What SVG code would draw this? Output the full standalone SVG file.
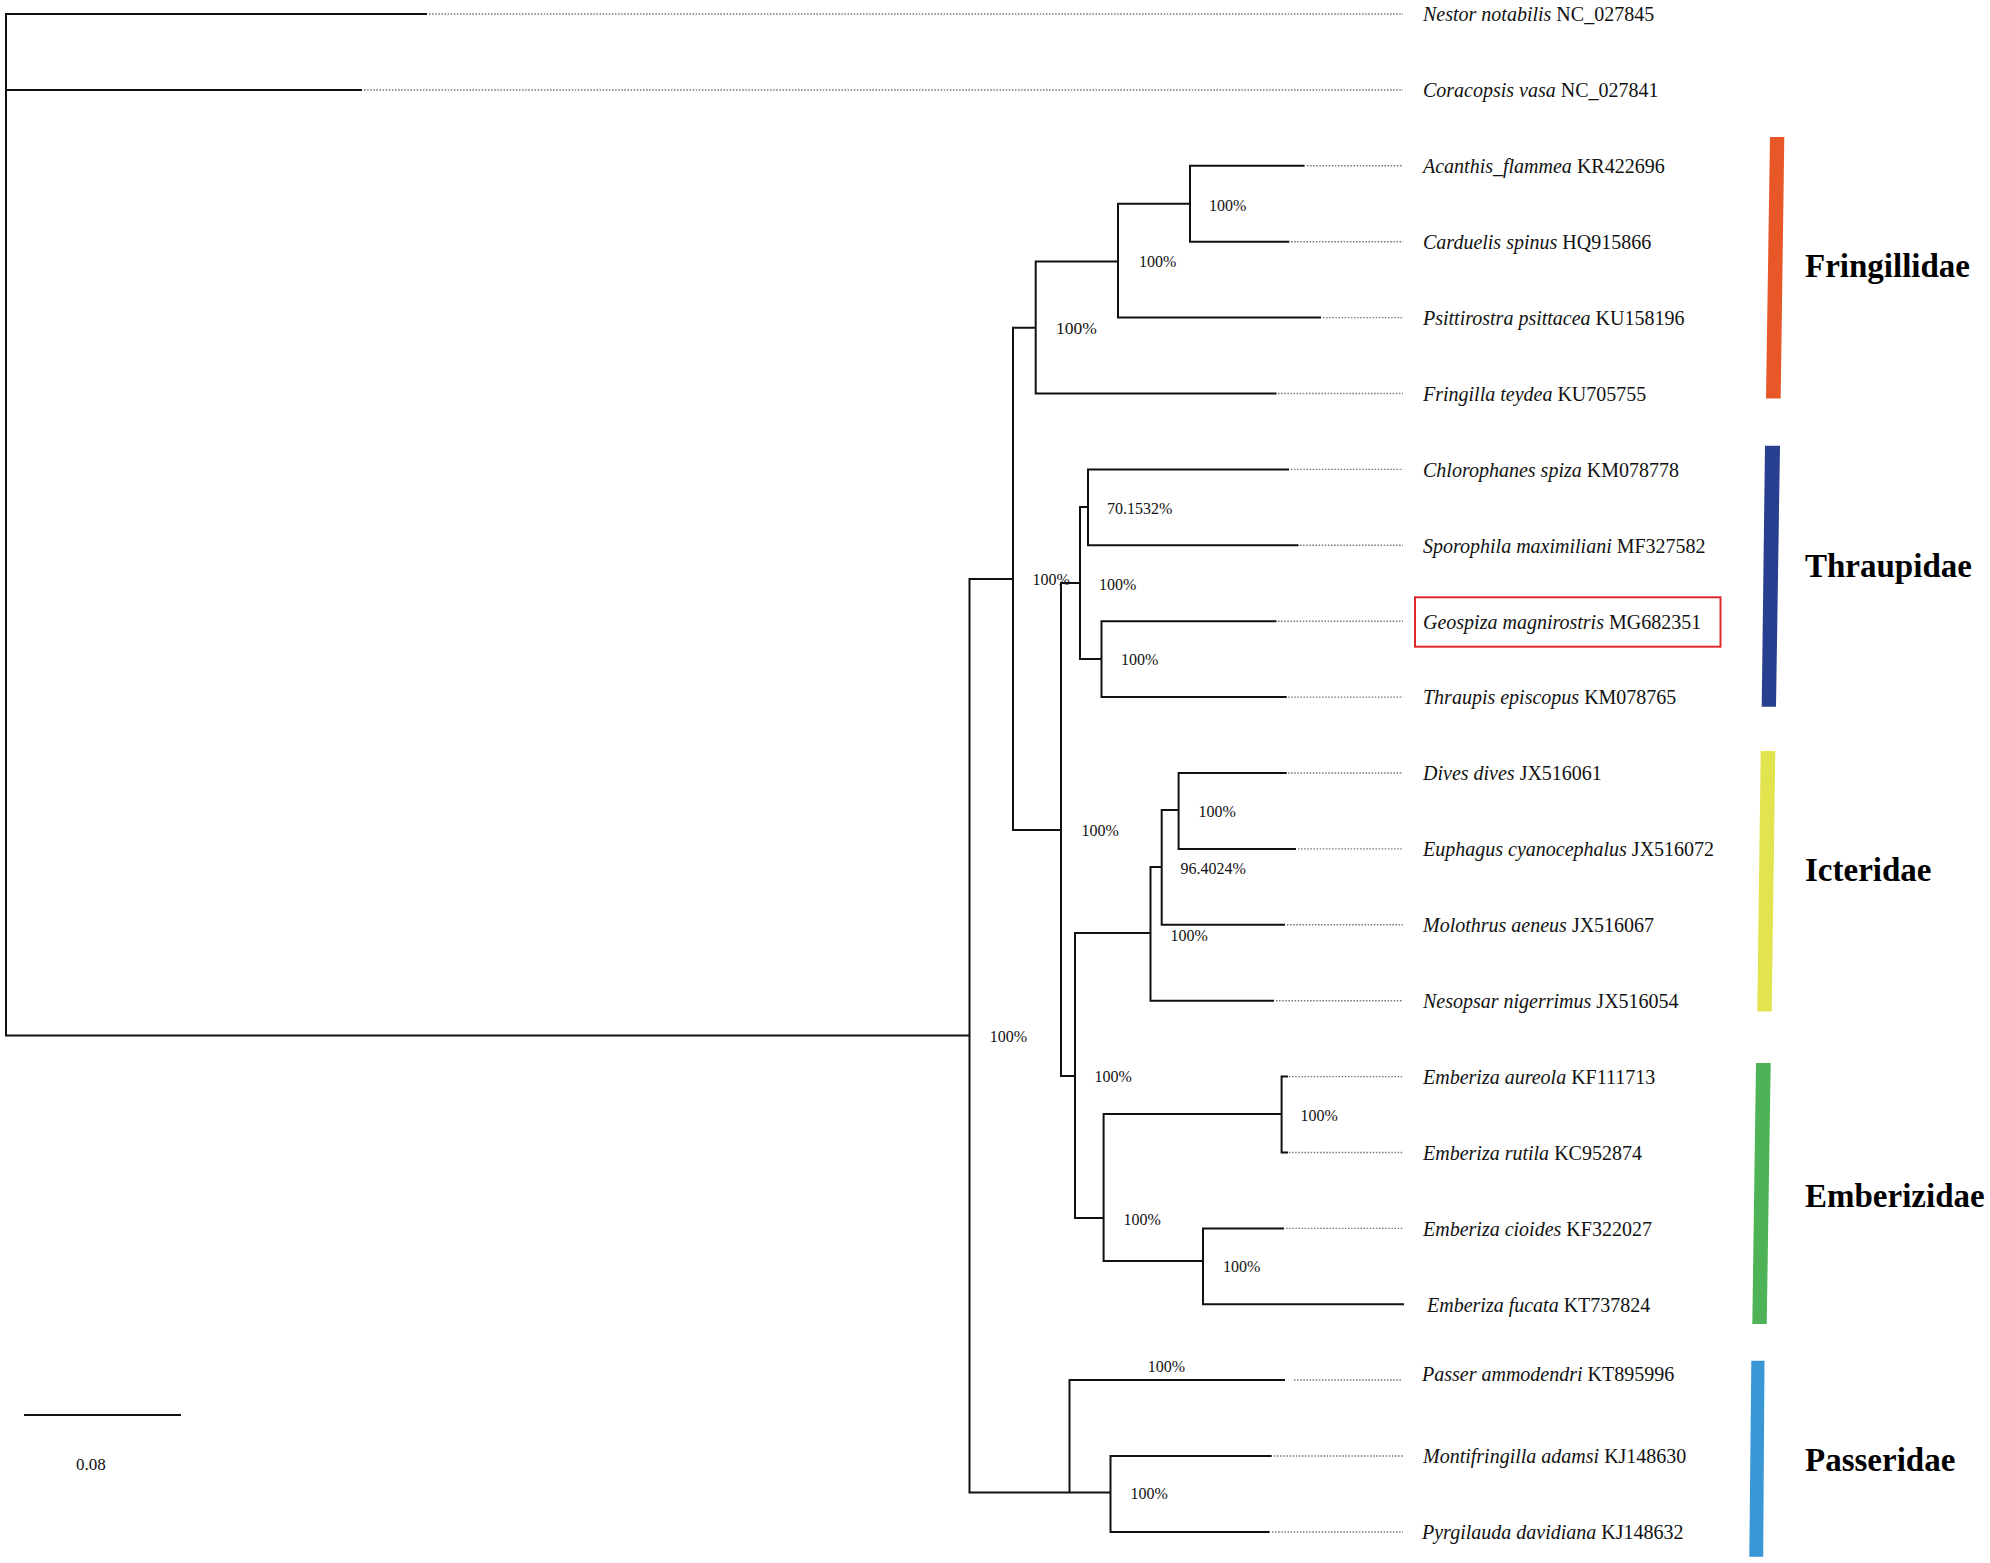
<svg xmlns="http://www.w3.org/2000/svg" width="1990" height="1563" viewBox="0 0 1990 1563">
<style>
.br{fill:none;stroke:#111;stroke-width:2}
.dot{fill:none;stroke:#777;stroke-width:1.4;stroke-dasharray:1.5 1.6}
.tip{font-family:"Liberation Serif",serif;font-size:20px;fill:#111}
.tip .sp{font-style:italic}
.bs{font-family:"Liberation Serif",serif;font-size:16px;fill:#111}
.bsl{font-family:"Liberation Serif",serif;font-size:17.5px;fill:#111}
.fam{font-family:"Liberation Serif",serif;font-size:33px;font-weight:bold;fill:#000}
</style>
<rect width="1990" height="1563" fill="#fff"/>
<g id="connectors">
<path class="br" d="M427,14 H6 V1035.5 H969.5 M6,90 H362"/>
<path class="br" d="M1013,579 H969.5 V1492.5 H1110.5"/>
<path class="br" d="M1069.5,1492.5 V1380 H1285"/>
<path class="br" d="M1271.7,1456 H1110.5 V1532 H1269.7"/>
<path class="br" d="M1035.7,327.7 H1013 V830 H1061"/>
<path class="br" d="M1118,261.5 H1035.7 V393.5 H1276.5"/>
<path class="br" d="M1190,203.7 H1118 V317.6 H1321"/>
<path class="br" d="M1304.6,165.8 H1190 V241.7 H1289.3"/>
<path class="br" d="M1080,583 H1061 V1076 H1075"/>
<path class="br" d="M1088,507 H1080 V659 H1101.5"/>
<path class="br" d="M1289,469.4 H1088 V545.3 H1298.5"/>
<path class="br" d="M1276.5,621.2 H1101.5 V697.1 H1286.7"/>
<path class="br" d="M1150.5,933 H1075 V1218 H1103.6"/>
<path class="br" d="M1161.7,867 H1150.5 V1000.7 H1274"/>
<path class="br" d="M1178.6,810 H1161.7 V924.8 H1285"/>
<path class="br" d="M1286.7,773 H1178.6 V848.9 H1296"/>
<path class="br" d="M1281.6,1114 H1103.6 V1261 H1203"/>
<path class="br" d="M1288,1076.6 H1281.6 V1152.5 H1288"/>
<path class="br" d="M1284,1228.4 H1203 V1304.3 H1404"/>
<path class="dot" d="M429,14 H1403 M364,90 H1403 M1307,165.8 H1403 M1291,241.7 H1403 M1323,317.6 H1403 M1278,393.5 H1403 M1291,469.4 H1403 M1300,545.3 H1403 M1278,621.2 H1403 M1288,697.1 H1403 M1288,773 H1403 M1298,848.9 H1403 M1287,924.8 H1403 M1276,1000.7 H1403 M1289,1076.6 H1403 M1289,1152.5 H1403 M1286,1228.4 H1403 M1294,1380 H1401 M1274,1456 H1403 M1272,1532 H1403"/>
</g>
<g id="support">
<text class="bs" x="1209" y="210.5">100%</text>
<text class="bs" x="1139" y="267">100%</text>
<text class="bsl" x="1056" y="334">100%</text>
<text class="bs" x="1107" y="513.5">70.1532%</text>
<text class="bs" x="1099" y="589.5">100%</text>
<text class="bs" x="1032.6" y="584.5">100%</text>
<text class="bs" x="1121" y="664.5">100%</text>
<text class="bs" x="1081.6" y="836">100%</text>
<text class="bs" x="1198.5" y="817">100%</text>
<text class="bs" x="1180.6" y="873.5">96.4024%</text>
<text class="bs" x="1170.4" y="940.5">100%</text>
<text class="bs" x="989.8" y="1041.5">100%</text>
<text class="bs" x="1094.4" y="1082">100%</text>
<text class="bs" x="1300.5" y="1120.5">100%</text>
<text class="bs" x="1123.5" y="1224.5">100%</text>
<text class="bs" x="1223" y="1272">100%</text>
<text class="bs" x="1147.7" y="1372">100%</text>
<text class="bs" x="1130.4" y="1498.5">100%</text>
</g>
<g id="tip-nestor"><text class="tip" x="1423" y="21"><tspan class="sp">Nestor notabilis</tspan> NC_027845</text></g>
<g id="tip-coracopsis"><text class="tip" x="1423" y="97"><tspan class="sp">Coracopsis vasa</tspan> NC_027841</text></g>
<g id="tip-acanthis"><text class="tip" x="1423" y="173"><tspan class="sp">Acanthis_flammea</tspan> KR422696</text></g>
<g id="tip-carduelis"><text class="tip" x="1423" y="249"><tspan class="sp">Carduelis spinus</tspan> HQ915866</text></g>
<g id="tip-psittirostra"><text class="tip" x="1423" y="325"><tspan class="sp">Psittirostra psittacea</tspan> KU158196</text></g>
<g id="tip-fringilla"><text class="tip" x="1423" y="400.5"><tspan class="sp">Fringilla teydea</tspan> KU705755</text></g>
<g id="tip-chlorophanes"><text class="tip" x="1423" y="476.5"><tspan class="sp">Chlorophanes spiza</tspan> KM078778</text></g>
<g id="tip-sporophila"><text class="tip" x="1423" y="552.5"><tspan class="sp">Sporophila maximiliani</tspan> MF327582</text></g>
<g id="tip-geospiza"><rect x="1415" y="597.3" width="305.5" height="49.4" fill="none" stroke="#e0282c" stroke-width="2"/><text class="tip" x="1423" y="628.5"><tspan class="sp">Geospiza magnirostris</tspan> MG682351</text></g>
<g id="tip-thraupis"><text class="tip" x="1423" y="704"><tspan class="sp">Thraupis episcopus</tspan> KM078765</text></g>
<g id="tip-dives"><text class="tip" x="1423" y="780"><tspan class="sp">Dives dives</tspan> JX516061</text></g>
<g id="tip-euphagus"><text class="tip" x="1423" y="856"><tspan class="sp">Euphagus cyanocephalus</tspan> JX516072</text></g>
<g id="tip-molothrus"><text class="tip" x="1423" y="932"><tspan class="sp">Molothrus aeneus</tspan> JX516067</text></g>
<g id="tip-nesopsar"><text class="tip" x="1423" y="1008"><tspan class="sp">Nesopsar nigerrimus</tspan> JX516054</text></g>
<g id="tip-e-aureola"><text class="tip" x="1423" y="1084"><tspan class="sp">Emberiza aureola</tspan> KF111713</text></g>
<g id="tip-e-rutila"><text class="tip" x="1423" y="1159.5"><tspan class="sp">Emberiza rutila</tspan> KC952874</text></g>
<g id="tip-e-cioides"><text class="tip" x="1423" y="1235.5"><tspan class="sp">Emberiza cioides</tspan> KF322027</text></g>
<g id="tip-e-fucata"><text class="tip" x="1427" y="1311.5"><tspan class="sp">Emberiza fucata</tspan> KT737824</text></g>
<g id="tip-passer"><text class="tip" x="1422" y="1381"><tspan class="sp">Passer ammodendri</tspan> KT895996</text></g>
<g id="tip-montifringilla"><text class="tip" x="1423" y="1463"><tspan class="sp">Montifringilla adamsi</tspan> KJ148630</text></g>
<g id="tip-pyrgilauda"><text class="tip" x="1422" y="1539"><tspan class="sp">Pyrgilauda davidiana</tspan> KJ148632</text></g>
<g id="fam-fringillidae"><polygon points="1770,137 1784.3,137 1780.7,398.5 1766,398.5" fill="#e85727"/><text class="fam" x="1805" y="277">Fringillidae</text></g>
<g id="fam-thraupidae"><polygon points="1765,445.7 1780,445.7 1776,706.7 1761.7,706.7" fill="#283f8f"/><text class="fam" x="1805" y="577">Thraupidae</text></g>
<g id="fam-icteridae"><polygon points="1760.7,751 1775.3,751 1771.7,1011.6 1757.3,1011.6" fill="#e1e44e"/><text class="fam" x="1805" y="881">Icteridae</text></g>
<g id="fam-emberizidae"><polygon points="1756,1063 1770.7,1063 1766.7,1324 1752.3,1324" fill="#4db356"/><text class="fam" x="1805" y="1206.5">Emberizidae</text></g>
<g id="fam-passeridae"><polygon points="1751.3,1360.7 1764.5,1360.7 1763.2,1556.7 1749.3,1556.7" fill="#3a97d6"/><text class="fam" x="1805" y="1470.5">Passeridae</text></g>
<g id="scale-bar"><line x1="24" y1="1415" x2="181" y2="1415" stroke="#111" stroke-width="2"/><text x="76" y="1469.5" font-family="Liberation Serif, serif" font-size="17" fill="#111">0.08</text></g>
</svg>
